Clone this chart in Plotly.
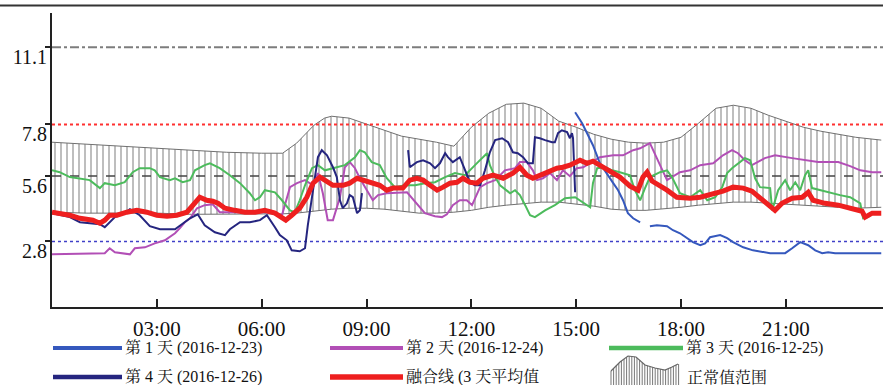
import plotly.graph_objects as go
import numpy as np

# ---------------- data ----------------
x_tick_vals = [3, 6, 9, 12, 15, 18, 21]
x_tick_text = ["03:00", "06:00", "09:00", "12:00", "15:00", "18:00", "21:00"]
y_tick_vals = [2.8, 5.6, 7.8, 11.1]
y_tick_text = ["2.8", "5.6", "7.8", "11.1"]

ref_levels = [11.1, 7.8, 5.6, 2.8]

band_h = [0, 1, 2, 3, 4, 5, 6, 6.6, 7, 7.5, 7.8, 8, 8.5, 9, 9.5, 10, 10.5, 11, 11.5, 12,
          12.5, 13, 13.5, 14, 14.5, 15, 15.5, 16, 16.5, 17, 17.5, 18, 18.5, 19, 19.5, 20,
          20.5, 21, 21.5, 22, 22.5, 23, 23.73]
band_upper = [7.04, 6.95, 6.87, 6.78, 6.70, 6.61, 6.57, 6.57, 7.0, 7.77, 8.07, 8.15, 8.07,
              7.81, 7.55, 7.30, 7.17, 7.04, 6.87, 7.68, 8.28, 8.66, 8.71, 8.49, 7.94, 7.68,
              7.38, 7.17, 7.04, 7.0, 7.04, 7.25, 7.85, 8.49, 8.62, 8.49, 8.19, 7.94, 7.68,
              7.51, 7.38, 7.25, 7.13]
band_lower = [4.05, 4.01, 4.01, 4.01, 3.96, 3.96, 3.96, 3.98, 4.01, 4.09, 4.15, 4.18, 4.22,
              4.22, 4.18, 4.09, 4.01, 4.01, 4.05, 4.13, 4.26, 4.35, 4.43, 4.48, 4.48, 4.39,
              4.31, 4.18, 4.13, 4.13, 4.18, 4.26, 4.35, 4.43, 4.48, 4.48, 4.43, 4.39, 4.35,
              4.31, 4.26, 4.22, 4.26]

day1_h = [14.97, 15.17, 15.34, 15.48, 15.68, 15.88, 16.06, 16.20, 16.34, 16.48, 16.63, 16.83,
          None, 17.11, 17.31, 17.60, 17.77, 17.97, 18.17, 18.34, 18.55, 18.69, 18.83, 19.12,
          19.32, 19.49, 19.78, 20.06, 20.55, 20.98, 21.18, 21.41, 21.64, 21.84, 22.04, 22.21,
          22.41, 23.73]
day1_v = [8.32, 7.85, 7.34, 6.91, 6.14, 5.72, 5.29, 4.99, 4.56, 4.01, 3.79, 3.62,
          None, 3.45, 3.49, 3.45, 3.28, 3.15, 2.94, 2.77, 2.64, 2.72, 2.98, 3.07,
          2.94, 2.77, 2.55, 2.42, 2.30, 2.30, 2.51, 2.77, 2.64, 2.42, 2.30, 2.34,
          2.30, 2.30]

day2_h = [0, 1.51, 1.65, 1.80, 2.23, 2.37, 2.66, 2.94, 3.23, 3.52, 3.66, 3.80, 3.95, 4.15,
          4.37, 4.60, 4.80, 5.23, 5.66, 6.15, 6.58, 6.81, 7.01, 7.24, 7.47, 7.61, 7.75, 7.89,
          8.04, 8.24, 8.38, 8.52, 8.67, 8.81, 9.01, 9.18, 9.33, 9.58, 10.16, 10.44, 10.67,
          10.96, 11.16, 11.30, 11.47, 11.67, 11.87, 12.02, 12.16, 12.25, 12.45, 12.68, 12.96,
          13.25, 13.39, 13.59, 13.76, 13.88, 14.05, 14.25, 14.45, 14.62, 14.82, 15.02, 15.20,
          15.40, 15.68, 16.06, 16.34, 16.63, 16.83, 17.11, 17.26, 17.40, 17.60, 17.77, 17.97,
          18.26, 18.55, 18.92, 19.20, 19.46, 19.63, 19.83, 20.03, 20.40, 20.69, 21.18, 21.92,
          22.50, 22.84, 23.13, 23.47, 23.73]
day2_v = [2.25, 2.30, 2.51, 2.34, 2.25, 2.51, 2.55, 2.72, 2.85, 3.15, 3.37, 3.62, 3.79, 4.22,
          4.35, 4.39, 4.05, 4.05, 4.05, 4.05, 3.92, 5.12, 5.29, 5.42, 5.20, 5.72, 4.86, 3.71,
          3.71, 4.69, 5.97, 6.19, 5.93, 5.50, 4.99, 4.56, 4.78, 4.86, 4.90, 4.43, 4.01,
          3.88, 3.84, 3.96, 4.35, 4.56, 4.56, 4.35, 4.78, 5.12, 5.29, 5.42, 5.84,
          5.93, 6.19, 6.19, 5.84, 5.42, 5.50, 5.72, 5.42, 5.84, 5.59, 5.93, 5.97,
          6.14, 6.40, 6.48, 6.48, 6.70, 6.78, 7.00, 6.48, 6.06, 5.42, 5.59, 5.76,
          5.84, 6.06, 6.14, 6.48, 6.70, 6.57, 6.27, 6.06, 6.36, 6.48, 6.36, 6.19,
          6.19, 6.02, 5.84, 5.76, 5.76]

day3_h = [0, 0.22, 0.51, 1.08, 1.37, 1.51, 1.80, 2.08, 2.31, 2.51, 2.80, 2.94, 3.09, 3.37,
          3.52, 3.74, 3.95, 4.09, 4.37, 4.52, 4.80, 5.09, 5.38, 5.66, 5.81, 5.95, 6.09, 6.38,
          6.58, 6.81, 6.95, 7.09, 7.24, 7.44, 7.61, 7.81, 8.04, 8.38, 8.67, 8.81, 8.95, 9.15,
          9.38, 9.58, 9.81, 10.10, 10.39, 10.67, 10.96, 11.25, 11.53, 11.82, 12.19, 12.45,
          12.53, 12.68, 12.82, 13.11, 13.25, 13.39, 13.54, 13.68, 13.82, 14.11, 14.39, 14.68,
          14.97, 15.25, 15.40, 15.48, 15.60, 15.83, 16.03, 16.25, 16.54, 16.68, 16.83, 16.97,
          17.11, 17.40, 17.60, 17.74, 17.97, 18.26, 18.55, 18.75, 18.98, 19.18, 19.32, 19.46,
          19.69, 19.83, 19.98, 20.12, 20.26, 20.55, 20.61, 20.78, 20.98, 21.12, 21.27, 21.41,
          21.55, 21.64, 21.75, 21.98, 22.27, 22.55, 22.84, 23.13, 23.21, 23.35, 23.50]
day3_v = [5.84, 5.76, 5.55, 5.42, 5.08, 5.29, 5.20, 5.33, 5.76, 5.93, 5.93, 5.84, 5.55, 5.42,
          5.50, 5.33, 5.42, 5.84, 6.06, 6.14, 5.93, 5.63, 5.29, 4.86, 4.56, 4.69, 4.99, 4.90,
          4.56, 4.13, 4.05, 4.56, 5.20, 5.93, 6.06, 5.84, 5.93, 6.06, 6.40, 6.70, 6.61, 6.19,
          6.06, 5.50, 5.12, 5.20, 5.20, 5.29, 5.33, 5.55, 5.72, 5.63, 6.19, 6.57,
          6.06, 5.55, 5.20, 4.86, 4.99, 4.78, 4.35, 3.92, 3.84, 4.13, 4.35, 4.65,
          4.69, 4.43, 4.26, 5.29, 5.93, 5.97, 5.84, 5.76, 5.63, 4.99, 4.56, 5.08,
          5.55, 5.76, 5.84, 5.55, 4.86, 4.69, 4.99, 4.56, 4.69, 5.12, 5.72, 5.93,
          6.19, 6.36, 6.27, 5.50, 5.12, 5.08, 4.13, 4.99, 5.42, 4.99, 5.33, 4.99,
          5.63, 5.84, 5.08, 4.99, 4.86, 4.78, 4.69, 4.43, 3.79, 3.84, 4.01]

day4_h = [0, 0.51, 0.80, 1.37, 1.51, 1.80, 2.08, 2.23, 2.51, 2.80, 3.09, 3.52, 3.95, 4.17,
          4.37, 4.66, 4.95, 5.09, 5.38, 5.66, 5.95, 6.15, 6.38, 6.52, 6.72, 6.86, 7.09, 7.24,
          7.32, 7.47, 7.61, 7.72, 7.87, 8.04, 8.15, 8.24, 8.32, 8.44, 8.52, 8.61, 8.73, 8.81,
          8.87, None, 10.19, 10.24, 10.44, 10.62, 10.82, 10.96, 11.10, 11.25, 11.33, 11.47,
          11.67, 11.82, 11.96, 12.10, 12.25, 12.39, 12.53, 12.68, 12.88, 13.05, 13.19, 13.33,
          13.48, 13.62, 13.76, 13.82, 13.96, 14.11, 14.31, 14.39, 14.48, 14.59, 14.74, 14.82,
          14.88, 14.91, 14.97]
day4_v = [4.01, 3.84, 3.62, 3.54, 3.41, 3.84, 4.01, 4.18, 3.92, 3.45, 3.32, 3.32, 3.79, 3.96,
          3.49, 3.19, 3.07, 3.32, 3.62, 3.62, 3.71, 3.92, 3.41, 3.07, 2.85, 2.42, 2.38, 2.51,
          3.49, 4.99, 6.40, 6.70, 6.48, 5.97, 5.55, 4.56, 4.22, 4.43, 4.78, 4.69, 4.01, 4.13,
          4.86, None, 6.70, 5.97, 6.19, 6.27, 6.14, 5.93, 6.14, 6.57, 6.40, 6.19,
          6.40, 5.84, 5.33, 5.20, 5.20, 5.84, 6.61, 7.13, 7.21, 7.04, 6.61, 6.57,
          6.40, 6.14, 6.14, 7.25, 7.21, 7.13, 7.04, 7.04, 7.43, 7.55, 7.47, 7.21,
          7.43, 7.21, 4.90]

fused_h = [0, 0.22, 0.51, 0.80, 1.17, 1.37, 1.51, 1.65, 1.86, 2.14, 2.43, 2.71, 3.00, 3.29,
           3.57, 3.86, 4.03, 4.23, 4.43, 4.60, 4.75, 4.95, 5.23, 5.52, 5.81, 6.09, 6.38, 6.58,
           6.69, 6.86, 7.09, 7.29, 7.47, 7.67, 7.87, 8.04, 8.33, 8.52, 8.73, 8.90, 9.18, 9.38,
           9.58, 9.76, 10.04, 10.24, 10.44, 10.62, 10.82, 11.02, 11.19, 11.39, 11.59, 11.76,
           11.96, 12.16, 12.33, 12.62, 12.91, 13.19, 13.39, 13.59, 13.76, 13.96, 14.16, 14.45,
           14.62, 14.82, 15.11, 15.31, 15.48, 15.68, 15.97, 16.25, 16.54, 16.77, 16.91, 17.03,
           17.17, 17.40, 17.60, 17.88, 18.26, 18.55, 18.83, 19.20, 19.49, 19.78, 20.03, 20.26,
           20.49, 20.69, 20.89, 21.18, 21.47, 21.64, 21.78, 22.12, 22.50, 22.90, 23.18, 23.27,
           23.47, 23.73]
fused_v = [4.05, 4.01, 3.92, 3.79, 3.71, 3.58, 3.71, 3.92, 3.92, 4.05, 4.13, 4.05, 3.92, 3.88,
           3.92, 4.05, 4.35, 4.69, 4.56, 4.52, 4.43, 4.22, 4.13, 4.05, 4.05, 4.13, 4.01, 3.79,
           3.71, 3.92, 4.22, 4.69, 5.29, 5.55, 5.33, 5.20, 5.20, 5.29, 5.50, 5.42, 5.29, 5.20,
           4.99, 5.08, 5.08, 5.42, 5.50, 5.42, 5.20, 4.99, 5.12, 5.29, 5.33, 5.50,
           5.33, 5.29, 5.50, 5.63, 5.50, 5.72, 5.97, 5.63, 5.50, 5.63, 5.72, 5.93,
           5.97, 6.06, 6.27, 6.14, 6.23, 6.06, 5.80, 5.55, 5.16, 4.99, 5.55, 5.76,
           5.38, 5.20, 4.99, 4.69, 4.65, 4.69, 4.78, 4.95, 5.12, 5.08, 4.95, 4.65,
           4.35, 4.13, 4.43, 4.65, 4.69, 4.90, 4.56, 4.43, 4.35, 4.22, 4.09, 3.84,
           4.01, 4.01]

legend_labels = ["第 1 天 (2016-12-23)", "第 2 天 (2016-12-24)", "第 3 天 (2016-12-25)",
                 "第 4 天 (2016-12-26)", "融合线 (3 天平均值", "正常值范围"]

# ---------------- style ----------------
C_DAY1 = "#3558bd"
C_DAY2 = "#b24fb6"
C_DAY3 = "#4cbb5c"
C_DAY4 = "#25257f"
C_RED = "#ee1f1f"
C_BAND = "#6e6e6e"
FONT = "Liberation Serif, 'Noto Serif CJK SC', 'Noto Sans CJK SC', serif"
XMAX = 23.78
YMAX = 12.56

fig = go.Figure()

# normal range band with vertical hatching
fig.add_trace(go.Scatter(x=band_h, y=band_lower, mode="lines",
                         line=dict(color="#707070", width=1), showlegend=False, hoverinfo="skip"))
fig.add_trace(go.Scatter(x=band_h, y=band_upper, mode="lines",
                         line=dict(color="#707070", width=1), fill="tonexty",
                         fillcolor="rgba(255,255,255,0)",
                         fillpattern=dict(shape="|", size=6, solidity=0.3,
                                          fgcolor=C_BAND, bgcolor="rgba(255,255,255,0)"),
                         showlegend=False, hoverinfo="skip"))

# reference levels
ref_styles = [dict(color="#7d7d7d", width=2, dash="dashdot"),
              dict(color="#ff3030", width=2, dash="dot"),
              dict(color="#444444", width=1.5, dash="dash"),
              dict(color="#4040c8", width=1.5, dash="dot")]
for lvl, st in zip(ref_levels, ref_styles):
    fig.add_trace(go.Scatter(x=[0, XMAX], y=[lvl, lvl], mode="lines", line=st,
                             showlegend=False, hoverinfo="skip"))

for xs, ys, c in [(day2_h, day2_v, C_DAY2), (day3_h, day3_v, C_DAY3),
                  (day4_h, day4_v, C_DAY4), (day1_h, day1_v, C_DAY1)]:
    fig.add_trace(go.Scatter(x=xs, y=ys, mode="lines", line=dict(color=c, width=2),
                             connectgaps=False, showlegend=False))

fig.add_trace(go.Scatter(x=fused_h, y=fused_v, mode="lines",
                         line=dict(color=C_RED, width=5), showlegend=False))

# ---------------- axes ----------------
PL, PT, PB = 52, 13, 307
PW = 883 - PL
PH = PB - PT

fig.update_xaxes(range=[0, XMAX], tickvals=x_tick_vals, ticktext=x_tick_text,
                 ticks="inside", ticklen=8, tickwidth=1.5, tickcolor="#222",
                 showline=True, linecolor="#222", linewidth=2, showgrid=False,
                 zeroline=False, tickfont=dict(family=FONT, size=21, color="#111"),
                 ticklabelstandoff=2, automargin=False)
fig.update_yaxes(range=[0, YMAX], tickvals=y_tick_vals, ticktext=y_tick_text,
                 ticks="outside", ticklen=5, tickwidth=1.5, tickcolor="#222",
                 showline=True, linecolor="#222", linewidth=2, showgrid=False,
                 zeroline=False, tickfont=dict(family=FONT, size=20, color="#111"),
                 ticklabelshift=10, ticklabelstandoff=-6, automargin=False)


def px2x(px):
    return (px - PL) / PW


def py2y(py):
    return (PB - py) / PH


shapes = []
annotations = []
# top rule
shapes.append(dict(type="line", xref="paper", yref="paper", x0=px2x(0), x1=px2x(883),
                   y0=py2y(5.5), y1=py2y(5.5), line=dict(color="#333", width=2)))

# manual legend
leg = [(53, 122, 348, C_DAY1, 4), (330, 403, 348, C_DAY2, 4), (609, 683, 348, C_DAY3, 4.5),
       (53, 122, 377, C_DAY4, 4.5), (330, 403, 377, C_RED, 5.5)]
for (x0, x1, yy, c, w), lab in zip(leg, legend_labels[:5]):
    shapes.append(dict(type="line", xref="paper", yref="paper", x0=px2x(x0), x1=px2x(x1),
                       y0=py2y(yy), y1=py2y(yy), line=dict(color=c, width=w)))
    annotations.append(dict(xref="paper", yref="paper", x=px2x(x1 + 1), y=py2y(yy),
                            text=lab, showarrow=False, xanchor="left", yanchor="middle",
                            font=dict(family=FONT, size=16, color="#111")))
annotations.append(dict(xref="paper", yref="paper", x=px2x(685), y=py2y(377),
                        text=legend_labels[5], showarrow=False, xanchor="left",
                        yanchor="middle", font=dict(family=FONT, size=16, color="#111")))

# band icon glyph
prof_x = [611, 620, 628, 636, 645, 655, 665, 672, 678]
prof_y = [371, 362, 356, 357, 365, 368, 370, 367, 364]
path = ""
for xx in np.arange(611, 679, 2.6):
    ty = float(np.interp(xx, prof_x, prof_y))
    path += f"M {px2x(xx):.5f} {py2y(388):.5f} L {px2x(xx):.5f} {py2y(ty):.5f} "
shapes.append(dict(type="path", xref="paper", yref="paper", path=path,
                   line=dict(color="#777", width=1)))
outline = "M " + " L ".join(f"{px2x(a):.5f} {py2y(b):.5f}" for a, b in zip(prof_x, prof_y))
shapes.append(dict(type="path", xref="paper", yref="paper", path=outline,
                   line=dict(color="#666", width=1.2)))

fig.update_layout(width=883, height=385, margin=dict(l=PL, r=0, t=PT, b=385 - PB),
                  plot_bgcolor="white", paper_bgcolor="white", showlegend=False,
                  shapes=shapes, annotations=annotations,
                  font=dict(family=FONT, color="#111"))

fig.write_html("out.html", config={"displayModeBar": False},
               post_script="document.body.style.margin='0';"
               "document.body.style.overflow='hidden';")
